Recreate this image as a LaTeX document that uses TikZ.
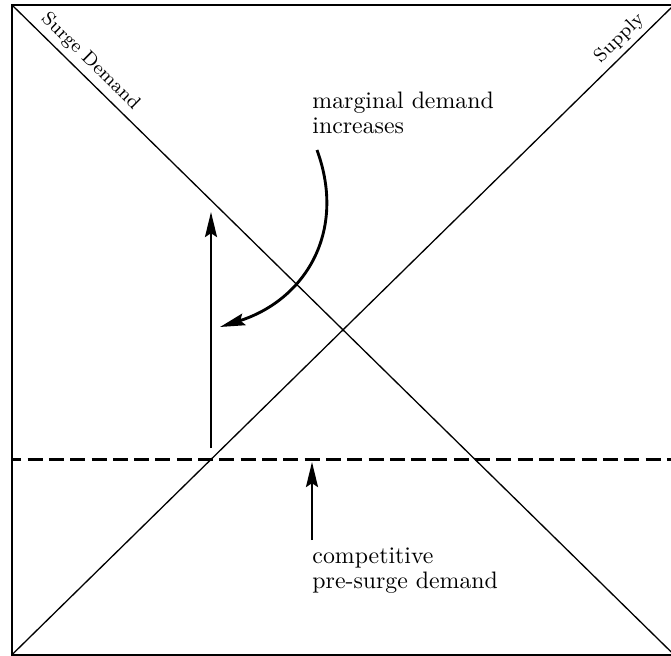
\documentclass[tikz,border=0pt]{standalone}
\usetikzlibrary{arrows.meta}
\begin{document}
\begin{tikzpicture}[x=0.42pt,y=-0.42pt,
  diag/.style={line width=0.55pt},
  frame/.style={line width=0.75pt},
  arr/.style={line width=1.2pt,-{Stealth[length=10.5pt,width=5pt,inset=1.6pt]}},
  lbl/.style={font=\fontsize{10}{10.5}\selectfont, align=left, inner sep=0pt, anchor=north west},
  dlbl/.style={font=\fontsize{8}{9.5}\selectfont, sloped, above, inner sep=2.2pt}]
\useasboundingbox (0,0) rectangle (671,656);
\coordinate (tl) at (12,5);
\coordinate (tr) at (674,5);
\coordinate (bl) at (12,654.7);
\coordinate (br) at (674,654.7);
\draw[frame] (tl) rectangle (br);
\draw[diag] (tl) -- node[dlbl, pos=0.103] (sd) {Surge Demand} (br);
\draw[diag] (bl) -- node[dlbl, pos=0.933] (sp) {Supply} (tr);
\coordinate (dl) at (12,459.5);
\coordinate (dr) at (674,459.5);
\draw[line width=1.6pt, dash pattern=on 6.3pt off 2.65pt, dash phase=2.4pt] (dl) -- (dr);
\coordinate (v0) at (211,448);
\coordinate (v1) at (211,212);
\draw[arr] (v0) -- (v1);
\coordinate (p0) at (312,540);
\coordinate (p1) at (312,462);
\draw[arr] (p0) -- (p1);
\coordinate (c0) at (317,150);
\coordinate (c1) at (220,327);
\draw[arr] (c0) .. controls (347,232) and (305,300) .. (c1);
\node[lbl] (m) at (312,91.5) {marginal demand\\increases};
\node[lbl] (c) at (312,547) {competitive\\pre-surge demand};
\end{tikzpicture}
\end{document}
